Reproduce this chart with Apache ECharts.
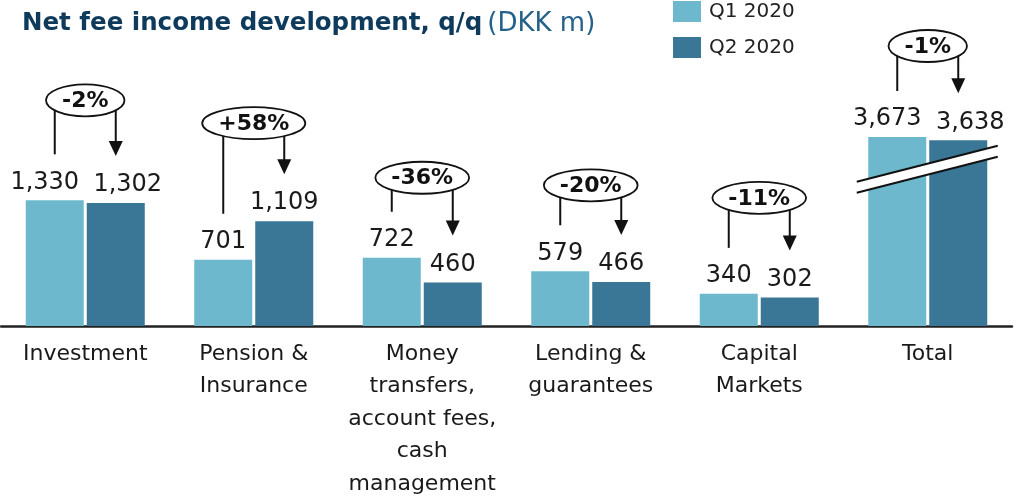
<!DOCTYPE html>
<html>
<head>
<meta charset="utf-8">
<script src="https://cdn.jsdelivr.net/npm/echarts@6/dist/echarts.min.js"></script>
<style>
	html, body { margin: 0; padding: 0; background: #fff; }
	#fee_chart { width: 1019px; height: 497px; }
</style>
</head>
<body>
<div id="fee_chart"></div>
<script>
	const categories = ['Investment', 'Pension &\nInsurance', 'Money\ntransfers,\naccount fees,\ncash\nmanagement', 'Lending &\nguarantees', 'Capital\nMarkets', 'Total'];
	const q1Values = [1330, 701, 722, 579, 340, 3673];
	const q2Values = [1302, 1109, 460, 466, 302, 3638];
	const changeText = ['-2%', '+58%', '-36%', '-20%', '-11%', '-1%'];
	const seriesNames = ['Q1 2020', 'Q2 2020'];
	// Total sits on a broken axis: these are the heights it is drawn with
	const totalShown = [2000, 1965];

	// layout
	const myColor = ['#6db8cc', '#3a7696'];
	const BAR_W = 58, BAR_GAP = 3;
	const bubbleLift = [100, 98, 80, 86, 96, 91];
	const breakAt = 1660;
	const last = categories.length - 1;
	const font = '"DejaVu Sans", sans-serif';

	let chart = echarts.init(document.getElementById('fee_chart'));

	function bothWide(i) { return q1Values[i] >= 1000 && q2Values[i] >= 1000 }
	function barData(vals, k) {
		return vals.map(function (v, i) {
			let item = { value: i === last ? totalShown[k] : v, real: v };
			if (bothWide(i)) item.label = { offset: [k === 0 ? -10 : 12, 0] };
			return item;
		});
	}
	function barSeries(k) {
		return {
			name: seriesNames[k],
			type: 'bar',
			data: barData(k === 0 ? q1Values : q2Values, k),
			barWidth: BAR_W,
			barGap: (BAR_GAP / BAR_W * 100) + '%',
			itemStyle: { color: myColor[k] },
			label: {
				show: true,
				position: 'top',
				distance: 6,
				color: '#1a1a1a',
				fontFamily: font,
				fontSize: 24,
				formatter: function (p) { return p.data.real.toLocaleString('en-US') }
			}
		};
	}

	chart.setOption({
		animation: false,
		title: {
			left: 17,
			top: 6,
			text: '{b|Net fee income development, q/q} {n|(DKK m)}',
			textStyle: {
				rich: {
					b: { fontFamily: font, fontWeight: 'bold', fontSize: 24.5, color: '#0e3a5b' },
					n: { fontFamily: font, fontWeight: 'normal', fontSize: 26, color: '#24628a' }
				}
			}
		},
		legend: {
			orient: 'vertical',
			left: 668,
			top: -4,
			itemWidth: 28,
			itemHeight: 21,
			itemGap: 15,
			icon: 'rect',
			data: seriesNames,
			textStyle: { fontFamily: font, fontSize: 20, color: '#222', padding: [0, 0, 0, 3] }
		},
		grid: { left: 1, right: 7, top: 137, bottom: 171, outerBoundsMode: 'none', containLabel: false },
		xAxis: {
			type: 'category',
			data: categories,
			axisLine: { lineStyle: { color: '#222', width: 2.5 } },
			axisTick: { show: false },
			axisLabel: {
				interval: 0,
				margin: 12,
				color: '#1a1a1a',
				fontFamily: font,
				fontSize: 22,
				lineHeight: 32.5
			}
		},
		yAxis: {
			type: 'value',
			min: 0,
			max: 2000,
			show: false
		},
		series: [barSeries(0), barSeries(1)]
	});

	// change bubbles, arrows and the axis break
	function px(i, v) { return chart.convertToPixel({ gridIndex: 0 }, [i, v]) }
	let bubbleFont = 'bold 22px "DejaVu Sans"';
	let ctx = document.createElement('canvas').getContext('2d');
	ctx.font = bubbleFont;
	let half = (BAR_W + BAR_GAP) / 2;
	let ink = '#111';
	let g = [];
	categories.forEach(function (c, i) {
		let s1 = i === last ? totalShown[0] : q1Values[i];
		let s2 = i === last ? totalShown[1] : q2Values[i];
		let p1 = px(i, s1), top2 = px(i, s2)[1];
		let cx = p1[0], top1 = p1[1];
		let x1 = cx - half, x2 = cx + half;
		let cy = Math.min(top1, top2) - bubbleLift[i];
		let rx = ctx.measureText(changeText[i]).width / 2 + 16, ry = 16;
		let tip = top2 - 47;
		g.push({ type: 'line', z: 20, shape: { x1: x1, y1: cy, x2: x1, y2: top1 - 46 }, style: { stroke: ink, lineWidth: 2 } });
		g.push({ type: 'line', z: 20, shape: { x1: x2, y1: cy, x2: x2, y2: tip - 14 }, style: { stroke: ink, lineWidth: 2 } });
		g.push({ type: 'polygon', z: 20, shape: { points: [[x2 - 7, tip - 15], [x2 + 7, tip - 15], [x2, tip]] }, style: { fill: ink } });
		g.push({ type: 'ellipse', z: 21, shape: { cx: cx, cy: cy, rx: rx, ry: ry }, style: { fill: '#fff', stroke: ink, lineWidth: 1.8 } });
		g.push({ type: 'text', z: 22, x: cx, y: cy + 1, style: { text: changeText[i], fill: ink, font: bubbleFont, align: 'center', verticalAlign: 'middle' } });
	});

	let tcx = px(last, 0)[0], by = px(last, breakAt)[1];
	let slope = 36 / 141, bx1 = tcx - 71, bx2 = tcx + 70;
	let yAt = function (x, d) { return by + (tcx - x) * slope + d };
	g.push({ type: 'polygon', z: 15, shape: { points: [[bx1, yAt(bx1, -5.5)], [bx2, yAt(bx2, -5.5)], [bx2, yAt(bx2, 5.5)], [bx1, yAt(bx1, 5.5)]] }, style: { fill: '#fff' } });
	g.push({ type: 'line', z: 16, shape: { x1: bx1, y1: yAt(bx1, -5.5), x2: bx2, y2: yAt(bx2, -5.5) }, style: { stroke: ink, lineWidth: 2 } });
	g.push({ type: 'line', z: 16, shape: { x1: bx1, y1: yAt(bx1, 5.5), x2: bx2, y2: yAt(bx2, 5.5) }, style: { stroke: ink, lineWidth: 2 } });

	chart.setOption({ graphic: g });
</script>
</body>
</html>
